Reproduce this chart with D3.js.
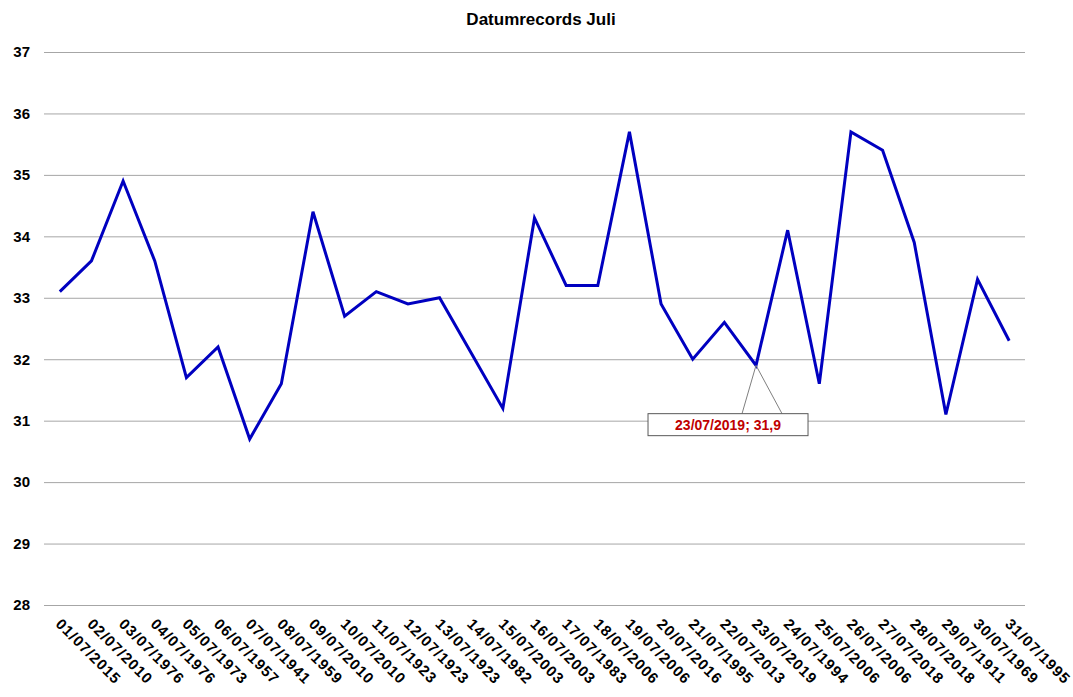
<!DOCTYPE html>
<html>
<head>
<meta charset="utf-8">
<script src="https://cdn.jsdelivr.net/npm/d3@7"></script>
<style>
  body { margin: 0; background: #fff; }
  text { font-family: "Liberation Sans", Arial, sans-serif; }
</style>
</head>
<body>
<div id="chart"></div>
<script>
const width = 1073;
const height = 697;
const margin = {top: 52, right: 48, bottom: 92, left: 44};

// datum labels (x axis) and record temperatures
const xLabels = ["01/07/2015","02/07/2010","03/07/1976","04/07/1976","05/07/1973","06/07/1957",
  "07/07/1941","08/07/1959","09/07/2010","10/07/2010","11/07/1923","12/07/1923","13/07/1923",
  "14/07/1982","15/07/2003","16/07/2003","17/07/1983","18/07/2006","19/07/2006","20/07/2016",
  "21/07/1995","22/07/2013","23/07/2019","24/07/1994","25/07/2006","26/07/2006","27/07/2018",
  "28/07/2018","29/07/1911","30/07/1969","31/07/1995"];
const temps = [33.1,33.6,34.9,33.6,31.7,32.2,30.7,31.6,34.4,32.7,33.1,32.9,33.0,32.1,31.2,
  34.3,33.2,33.2,35.7,32.9,32.0,32.6,31.9,34.1,31.6,35.7,35.4,33.9,31.1,33.3,32.3];
const yTicks = [28,29,30,31,32,33,34,35,36,37];
const highlight = 22; // 23/07/2019

const svg = d3.select("#chart").append("svg")
  .attr("width", width)
  .attr("height", height);

const x = d3.scaleBand()
  .domain(xLabels)
  .range([margin.left, width - margin.right]);

const y = d3.scaleLinear()
  .domain([28, 37])
  .range([height - margin.bottom, margin.top]);

// title
svg.append("text")
  .attr("x", 541)
  .attr("y", 25)
  .attr("text-anchor", "middle")
  .attr("font-size", "17px")
  .attr("font-weight", "bold")
  .text("Datumrecords Juli");

// gridlines + y labels
const yAxis = svg.append("g")
  .attr("transform", "translate(" + margin.left + ",0)")
  .call(d3.axisLeft(y).tickValues(yTicks).tickSize(-(width - margin.left - margin.right)).tickPadding(14).tickFormat(d3.format("d")));
yAxis.select(".domain").remove();
yAxis.selectAll(".tick line").attr("stroke", "#a6a6a6").attr("stroke-width", 1);
yAxis.selectAll(".tick text")
  .attr("font-size", "15px")
  .attr("font-weight", "bold")
  .attr("fill", "#000");

// x labels, rotated
const xAxis = svg.append("g")
  .attr("transform", "translate(0," + (height - margin.bottom) + ")")
  .call(d3.axisBottom(x).tickSize(0).tickPadding(0));
xAxis.select(".domain").remove();
xAxis.selectAll(".tick text")
  .attr("font-size", "15px")
  .attr("font-weight", "bold")
  .attr("fill", "#000")
  .attr("letter-spacing", "1px")
  .attr("dy", 0)
  .style("text-anchor", "start")
  .attr("transform", "translate(-5,20)rotate(45)");

// the line
const line = d3.line()
  .x((d, i) => x(xLabels[i]) + x.bandwidth() / 2)
  .y(d => y(d));

svg.append("path")
  .datum(temps)
  .attr("fill", "none")
  .attr("stroke", "#0000c0")
  .attr("stroke-width", 3)
  .attr("stroke-linejoin", "miter")
  .attr("d", line);

// data label for 23/07/2019
const px = x(xLabels[highlight]) + x.bandwidth() / 2;
const py = y(temps[highlight]);
const boxW = 160, boxH = 22;
const bx = px - 108, by = y(31) - 7;

svg.append("path")
  .attr("d", "M" + (bx + 94) + "," + by + "L" + px + "," + py + "L" + (bx + 134) + "," + by)
  .attr("fill", "none")
  .attr("stroke", "#7f7f7f")
  .attr("stroke-width", 1);

svg.append("rect")
  .attr("x", bx)
  .attr("y", by)
  .attr("width", boxW)
  .attr("height", boxH)
  .attr("fill", "#fff")
  .attr("stroke", "#595959")
  .attr("stroke-width", 1);

svg.append("text")
  .attr("x", bx + boxW / 2)
  .attr("y", by + 16)
  .attr("text-anchor", "middle")
  .attr("font-size", "14px")
  .attr("font-weight", "bold")
  .attr("fill", "#c00000")
  .text(xLabels[highlight] + "; " + String(temps[highlight]).replace(".", ","));
</script>
</body>
</html>
